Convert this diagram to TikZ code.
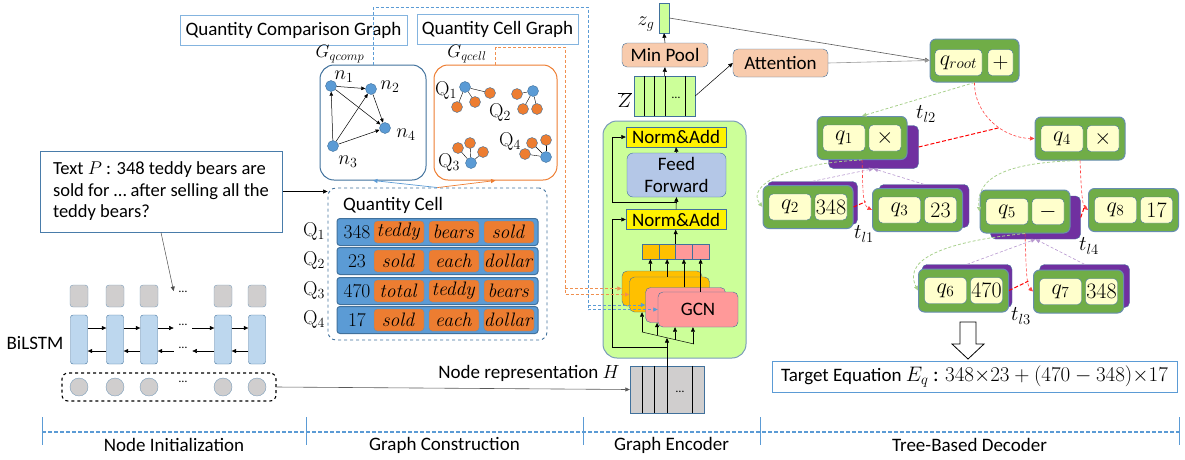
\RequirePackage{fix-cm}
\documentclass[tikz,border=0pt]{standalone}
\usepackage[no-math]{fontspec}
\setmainfont{Carlito}
\usetikzlibrary{arrows.meta,calc}
\definecolor{bord}{HTML}{41719C}
\definecolor{qblue}{HTML}{5B9BD5}
\definecolor{qorange}{HTML}{ED7D31}
\definecolor{lstm}{HTML}{BDD7EE}
\definecolor{cellgray}{HTML}{D0CECE}
\definecolor{encgreen}{HTML}{CCFF99}
\definecolor{peach}{HTML}{F8CBAD}
\definecolor{ffblue}{HTML}{B4C7E7}
\definecolor{gcnorange}{HTML}{FFC000}
\definecolor{gcnpink}{HTML}{FF9999}
\definecolor{tgreen}{HTML}{70AD47}
\definecolor{tyellow}{HTML}{FFFFCC}
\definecolor{tpurple}{HTML}{7030A0}
\definecolor{dgreen}{HTML}{A9D18E}
\begin{document}
\begin{tikzpicture}[x=1pt,y=-1pt,
    every node/.style={inner sep=0pt,font=\fontsize{19}{21.5}\selectfont},
    >={Triangle[length=4.5pt,width=4pt]},
    tbox/.style={draw=qblue!75,line width=1pt,fill=white},
    mlab/.style={font=\fontsize{20}{22}\selectfont},
    tlab/.style={font=\fontsize{21}{23}\selectfont},
    gnode/.style={circle,fill=qblue,draw=bord,minimum size=11pt},
    onode/.style={circle,fill=qorange,draw=bord,minimum size=11pt},
    graybox/.style={fill=cellgray,draw=bord!70,rounded corners=3pt,minimum width=18pt,minimum height=22pt},
    lstmcell/.style={fill=lstm,draw=bord,rounded corners=2.5pt,minimum width=17pt,minimum height=49pt},
    graydot/.style={circle,fill=cellgray,draw=bord!70,minimum size=18pt},
    dots/.style={inner xsep=5pt,font=\fontsize{12}{14}\selectfont},
    qrow/.style={fill=qblue,draw=bord,line width=1pt,rounded corners=3pt,minimum width=201pt,minimum height=27pt},
    word/.style={fill=qorange,draw=bord!80,rounded corners=3pt,minimum width=50pt,minimum height=22pt,font=\fontsize{19.5}{21}\selectfont},
    numtxt/.style={font=\fontsize{19.5}{21}\selectfont},
    peachbox/.style={fill=peach,draw=bord,rounded corners=5pt},
    normadd/.style={fill=yellow,draw=bord,minimum width=100pt,minimum height=20pt},
    gcnlayer/.style={draw=bord,rounded corners=5pt,minimum width=80pt,minimum height=35pt},
    stripe/.style={draw=bord,minimum height=15pt,minimum width=16.75pt},
    tshadow/.style={fill=tpurple,draw=bord,rounded corners=5pt,minimum width=90pt,minimum height=43pt},
    touter/.style={fill=tgreen,draw=bord!80,line width=1pt,rounded corners=6pt,minimum width=90pt,minimum height=43pt},
    tcell/.style={fill=tyellow,draw=bord,rounded corners=4pt,minimum height=26pt,font=\fontsize{22}{24}\selectfont},
    bdash/.style={draw=qblue,dash pattern=on 3pt off 2pt,line width=0.7pt},
    odash/.style={draw=qorange!85,dash pattern=on 3pt off 2pt,line width=0.7pt},
    gdash/.style={draw=dgreen,dash pattern=on 3pt off 2pt,line width=0.8pt},
    rdash/.style={draw=red!75,dash pattern=on 3pt off 2pt,line width=0.6pt},
    rthick/.style={draw=red,dash pattern=on 4pt off 2pt,line width=1pt},
    pdash/.style={draw=tpurple!50,dash pattern=on 3pt off 2pt,line width=0.6pt}]
\useasboundingbox (0,0) rectangle (1185,459);

% graph construction
\node[tbox,minimum width=227pt,minimum height=30pt] (tcomp) at (293.5,30) {Quantity Comparison Graph};
\node[tbox,minimum width=161pt,minimum height=30pt] (tcell) at (497.5,29) {Quantity Cell Graph};
\node[mlab,font=\fontsize{18}{20}\selectfont] (lcomp) at (340,54) {$G_{qcomp}$};
\node[mlab,font=\fontsize{18}{20}\selectfont] (lcell) at (467,54) {$G_{qcell}$};
\node[draw=bord,line width=1pt,rounded corners=14pt,minimum width=106pt,minimum height=115pt] (gcomp) at (373,122.5) {};
\node[draw=qorange,line width=1pt,rounded corners=14pt,minimum width=123pt,minimum height=115pt] (gcell) at (495.5,122.5) {};
\node[gnode] (n1) at (331,86) {};
\node[gnode] (n2) at (371,89) {};
\node[gnode] (n4) at (385,128) {};
\node[gnode] (n3) at (333,146) {};
\node[mlab] at (344,77) {$n_1$};
\node[mlab] at (390,87) {$n_2$};
\node[mlab] at (406,135) {$n_4$};
\node[mlab] at (348,162) {$n_3$};
\foreach \a/\b in {n1/n2,n1/n4,n2/n4,n3/n1,n3/n2,n3/n4}
  \draw[line width=0.5pt,-{Triangle[length=4pt,width=3.5pt]}] (\a) -- (\b);
% quantity cell graph
\node[gnode] (c1) at (465,87) {};
\foreach \p [count=\i] in {(490,93),(475,102),(457,107)} \draw (c1) -- \p node[onode] (c1-\i) {};
\node[gnode] (c2) at (533,91) {};
\foreach \p [count=\i] in {(517,94),(523,109),(537,109)} \draw (c2) -- \p node[onode] (c2-\i) {};
\node[gnode] (c3) at (471,163) {};
\foreach \p [count=\i] in {(458,148),(470,143),(483,152)} \draw (c3) -- \p node[onode] (c3-\i) {};
\node[gnode] (c4) at (546,157) {};
\foreach \p [count=\i] in {(532,143),(546,140),(525,154)} \draw (c4) -- \p node[onode] (c4-\i) {};
\node[mlab] at (446,91) {$\mathrm{Q}_1$};
\node[mlab] at (500,113) {$\mathrm{Q}_2$};
\node[mlab] at (449,163) {$\mathrm{Q}_3$};
\node[mlab] at (510,142) {$\mathrm{Q}_4$};

% quantity cell
\node[draw=bord,dashed,line width=0.9pt,rounded corners=8pt,minimum width=219pt,minimum height=152pt] (qcell) at (437.5,264) {};
\node[anchor=west] (qtitle) at (343,205) {Quantity Cell};
\foreach \r/\y/\n/\wa/\wb/\wc in {1/232/348/teddy/bears/sold,2/261/23/sold/each/dollar,3/291/470/total/teddy/bears,4/320/17/sold/each/dollar}{
  \node[qrow] (row\r) at (437.5,\y) {};
  \node[numtxt] (num\r) at (357,\y) {$\n$};
  \node[word] (wa\r) at (399,\y) {$\mathit{\wa}$};
  \node[word] (wb\r) at (454,\y) {$\mathit{\wb}$};
  \node[word] (wc\r) at (509,\y) {$\mathit{\wc}$};
  \node[mlab] (ql\r) at (314,\y) {$\mathrm{Q}_{\r}$};
}
\draw[qblue,line width=0.7pt,->] (qcell.north) -- (gcomp.south);
\draw[qorange,line width=0.7pt,->] (qcell.north) -- (gcell.south);

% node initialization
\node[draw=qblue!80!black,line width=1pt,minimum width=242pt,minimum height=81pt,align=left,font=\fontsize{18.5}{21.5}\selectfont] (text) at (161,191.5)
  {Text $P$ : 348 teddy bears are\\sold for … after selling all the\\teddy bears?};
\node (bilstm) at (35,343) {BiLSTM};
\node[draw,dashed,line width=1.1pt,rounded corners=6pt,minimum width=214pt,minimum height=28pt] (init) at (169,387) {};
\foreach \i/\x in {1/79,2/115,3/149,4/223,5/257}{
  \node[graybox] (o\i) at (\x,296) {};
  \node[lstmcell] (l\i) at (\x,339.5) {};
  \node[graydot] (e\i) at (\x,387) {};
}
\node[dots] (odots) at (183,292) {…};
\node[dots] (fdots) at (183,325) {…};
\node[dots] (bdots) at (183,348) {…};
\node[dots] (edots) at (183,382) {…};
\coordinate (fwd) at (0,328);
\coordinate (bwd) at (0,351);
\foreach \a/\b in {l1/l2,l2/l3,l3/fdots,fdots/l4,l4/l5}
  \draw[line width=0.5pt,->] (\a.east |- fwd) -- (\b.west |- fwd);
\foreach \a/\b in {l1/l2,l2/l3,l3/bdots,bdots/l4,l4/l5}
  \draw[line width=0.5pt,->] (\b.west |- bwd) -- (\a.east |- bwd);
\draw[line width=0.5pt,gray!60!black,->] (text.south) -- (odots.north west);
\draw[line width=0.5pt,->] (text.east) -- (qcell.west |- text.east);

% graph encoder
\node[fill=encgreen,draw=bord!70,line width=1pt,rounded corners=14pt,minimum width=143pt,minimum height=237pt] (enc) at (674.5,239.5) {};
\node[normadd] (na2) at (676,137) {Norm\&Add};
\node[fill=ffblue,draw=bord,rounded corners=6pt,minimum width=99pt,minimum height=44pt,align=center,font=\fontsize{19}{22}\selectfont] (ff) at (676.5,175) {Feed\\Forward};
\node[normadd] (na1) at (676,219.5) {Norm\&Add};
\foreach \i/\x/\c in {1/650.4/gcnorange,2/667.1/gcnorange,3/683.9/gcnpink,4/700.6/gcnpink}
  \node[stripe,fill=\c] (bar\i) at (\x,251.5) {};
\coordinate (fanA) at (642,332);
\coordinate (fanB) at (694,344);
\coordinate (f2) at ($(fanA)!.29!(fanB)$);
\coordinate (f3) at ($(fanA)!.635!(fanB)$);
\coordinate (f4) at ($(fanA)!.98!(fanB)$);
\draw[line width=0.5pt] (fanA) -- (fanB);
\node[gcnlayer,fill=gcnorange] (gcnA) at (662,288.5) {};
\node[gcnlayer,fill=gcnorange] (gcnB) at (669.5,294.5) {};
\node[gcnlayer,fill=gcnpink] (gcnC) at (685.5,305) {};
\draw[line width=0.5pt,->] (fanA) -- (fanA |- gcnB.south);
\draw[line width=0.5pt,->] (f2) -- (f2 |- gcnC.south);
\node[gcnlayer,fill=gcnpink] (gcnD) at (698,309.5) {GCN};
\draw[line width=0.5pt,->] (f3) -- (f3 |- gcnD.south);
\draw[line width=0.5pt,->] (f4) -- (f4 |- gcnD.south);
\foreach \i/\L in {1/gcnA,2/gcnB,3/gcnC,4/gcnD}
  \draw[line width=0.5pt,->] (\L.north -| bar\i.south) -- (bar\i.south);
\draw[line width=0.5pt,->] (bar2.north east) -- (bar2.north east |- na1.south);
\draw[line width=0.5pt,->] (na1.north) -- (ff.south);
\draw[line width=0.5pt,->] (ff.north) -- (na2.south);
\node[fill=cellgray,draw=bord,minimum width=74pt,minimum height=47pt] (H) at (667,389.5) {};
\foreach \x in {642,654,667,692} \draw[line width=0.6pt] (H.north -| \x,0) -- (H.south -| \x,0);
\node[dots] (hdots) at (680,392) {…};
\draw[line width=0.5pt,->] (H.north) -- (H.north |- 0,338);
\draw[line width=0.5pt,->] (H.north |- 0,347) -- (612,347) |- (na1.west);
\draw[line width=0.5pt,->] (ff.south |- 0,202) -- (612,202) |- (na2.west);
\node (hlabel) at (529,373) {Node representation $H$};
\draw[line width=0.6pt,gray!70!black,->] (init.east) -- (H.west);
\node[fill=encgreen,draw=bord,minimum width=61pt,minimum height=40pt] (zbar) at (664.5,96) {};
\foreach \x in {644,654,665,685} \draw[line width=0.6pt] (zbar.north -| \x,0) -- (zbar.south -| \x,0);
\node[dots] (zdots) at (676,98) {…};
\node[mlab] (lzbar) at (625,100) {$\overline{Z}$};
\node[peachbox,minimum width=86pt,minimum height=24pt] (pool) at (665,55) {Min Pool};
\node[fill=encgreen,draw=bord,minimum width=10pt,minimum height=30pt] (zg) at (664,18) {};
\node[mlab] (lzg) at (646,24) {$z_g$};
\node[peachbox,minimum width=95pt,minimum height=28pt] (attn) at (780.5,63) {Attention};
\draw[line width=0.5pt,->] (zbar.north) -- (pool.south);
\draw[line width=0.5pt,->] (pool.north) -- (zg.south);
\draw[line width=0.5pt,->] (zbar.east) -- (attn.west);
% graphs into the GCN layers
\draw[bdash,-{Triangle[length=4.5pt,width=4pt]}] (gcomp.north) |- (588,7) |- (gcnD.west);
\draw[bdash,-{Triangle[length=4.5pt,width=4pt]}] (588,305) -- (gcnC.west);
\draw[odash,-{Triangle[length=4.5pt,width=4pt]}] (gcell.north) |- (565,47) |- (gcnB.west);
\draw[odash,-{Triangle[length=4.5pt,width=4pt]}] (565,288.5) -- (gcnA.west);

% tree-based decoder
\foreach \n/\x/\y in {q1/873.5/147,q2/812.5/203,q3/924/206,q5/1035.5/217.5,q6/967/286,q7/1084.5/286}
  \node[tshadow] (s\n) at (\x,\y) {};
\node[touter,minimum width=89pt] (qroot) at (974.5,60.5) {};
\node[tcell,minimum width=47pt] (qroot-a) at (958.5,62.5) {$q_{root}$};
\node[tcell,minimum width=25pt] (qroot-b) at (1000.5,62.5) {$+$};
\foreach \n/\x/\y/\a/\b in {q1/862/138/q_1/\times,q4/1080/138.5/q_4/\times,q2/808/207/q_2/348,q3/917.5/210/q_3/23,q5/1025/211.5/q_5/-,q8/1133.5/210/q_8/17,q6/963.5/290.5/q_6/470,q7/1078.5/291.5/q_7/348}{
  \node[touter] (\n) at (\x,\y) {};
  \node[tcell,minimum width=42pt] (\n-a) at ([xshift=-18pt]\n.center) {$\a$};
  \node[tcell,minimum width=32pt] (\n-b) at ([xshift=23pt]\n.center) {$\b$};
}
\draw[line width=0.6pt,gray!70!black,->] (zg.east) -- (qroot.west);
\draw[line width=0.6pt,gray!80,->] (attn.east) -- (qroot.west);
% root
\draw[gdash,->] (qroot.south) -- (q1.north);
\draw[rdash,->] (qroot.south) .. controls (974,114) and (1003,138) .. (q4.west) coordinate[pos=.6] (r0);
\draw[rthick] (sq1.east) -- (r0);
\node[tlab] (tl2) at (926,114) {$t_{l2}$};
% q1
\draw[gdash,->] (q1.south) .. controls (790,163) and (745,185) .. (q2.west);
\draw[rdash,->] (q1.south) .. controls (863,185) and (862,205) .. (q3.west) coordinate[pos=.7] (r1);
\draw[rthick] (q2.east) -- (r1);
\draw[pdash,->] (sq2.north) -- (sq1.south);
\draw[pdash,->] (sq3.north) -- (sq1.south);
\node[tlab] (tl1) at (864,234) {$t_{l1}$};
% q4
\draw[gdash,->] (q4.south) .. controls (1020,162) and (975,172) .. (q5.west);
\draw[rdash,->] (q4.south) .. controls (1081,185) and (1082,205) .. (q8.west) coordinate[pos=.8] (r4);
\draw[rthick] (sq5.east) -- (r4);
\node[tlab] (tl4) at (1089,246) {$t_{l4}$};
% q5
\draw[gdash,->] (q5.south) .. controls (960,240) and (900,255) .. (q6.west);
\draw[rdash,->] (q5.south) .. controls (1026,260) and (1026,285) .. (q7.west) coordinate[pos=.7] (r5);
\draw[rthick] (q6.east) -- (r5);
\draw[pdash,->] (sq6.north) -- (sq5.south);
\draw[pdash,->] (sq7.north) -- (sq5.south);
\node[tlab] (tl3) at (1021,316) {$t_{l3}$};
% result
\draw[fill=white,line width=0.8pt] (960,322) -- (976,322) -- (976,344) -- (984,344) -- (968,359) -- (952,344) -- (960,344) -- cycle;
\node[draw=qblue,line width=1pt,minimum width=405pt,minimum height=31pt] (target) at (974.5,376.5)
  {Target Equation {\fontsize{21}{23}\selectfont$E_q$ : $348{\times}23+(470-348){\times}17$}};

% stages
\draw[qblue,dash pattern=on 4pt off 2pt,line width=1.2pt] (42,432) -- (1179,432);
\foreach \x in {42,306,583,760,1179} \draw[qblue,line width=0.8pt] (\x,417) -- (\x,445);
\node (st1) at (174,445) {Node Initialization};
\node (st2) at (444.5,445) {Graph Construction};
\node (st3) at (671.5,445) {Graph Encoder};
\node (st4) at (969.5,445) {Tree-Based Decoder};
\end{tikzpicture}
\end{document}
